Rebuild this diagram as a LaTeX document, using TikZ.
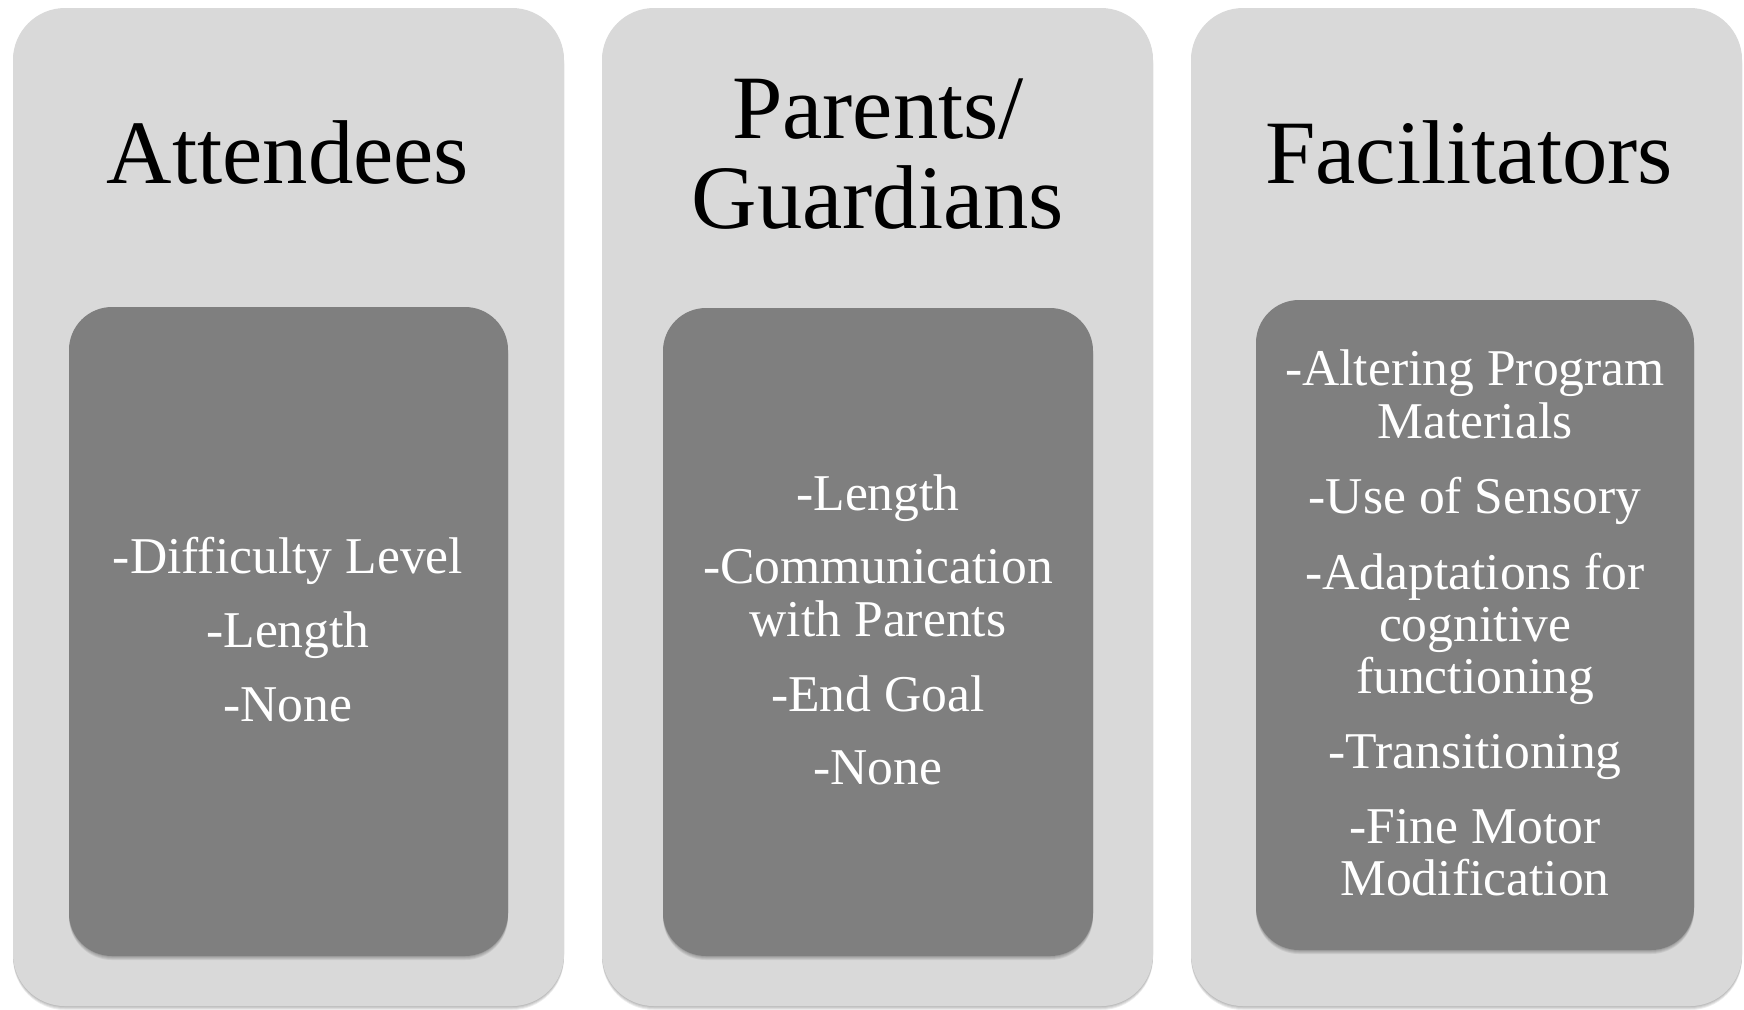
\documentclass[tikz,border=0pt]{standalone}
\usepackage{fontspec}
\setmainfont{Liberation Serif}
\definecolor{panelgray}{HTML}{D9D9D9}
\definecolor{cardgray}{HTML}{7F7F7F}

% soft shadow below a rounded box: stacked translucent copies
\newcommand{\softshade}[5]{%
  \foreach \k in {1,...,4}{%
    \fill[black,opacity=0.07,rounded corners=#5]
      (#1,#2+\k) rectangle (#3,#4+\k);}%
}

\begin{document}
\begin{tikzpicture}[x=0.5pt,y=-0.5pt,
  panel/.style={fill=panelgray,rounded corners=26pt},
  card/.style={fill=cardgray,rounded corners=21.5pt},
  heading/.style={anchor=base,inner sep=0pt,text=black,font=\fontsize{45.3pt}{48pt}\selectfont},
  entry/.style={anchor=base,inner sep=0pt,text=white,font=\fontsize{25.8pt}{27pt}\selectfont}]
\useasboundingbox (0,0) rectangle (1744,1009);

% the three columns
\softshade{13}{8}{564}{1006}{26pt}
\path[panel] (13,8) rectangle (564,1006);
\softshade{602}{8}{1153}{1006}{26pt}
\path[panel] (602,8) rectangle (1153,1006);
\softshade{1191}{8}{1742}{1006}{26pt}
\path[panel] (1191,8) rectangle (1742,1006);

% inner cards
\softshade{69}{307}{508}{956}{21.5pt}
\path[card] (69,307) rectangle (508,956);
\softshade{663}{308}{1093}{956}{21.5pt}
\path[card] (663,308) rectangle (1093,956);
\softshade{1256}{300}{1694}{950}{21.5pt}
\path[card] (1256,300) rectangle (1694,950);

% headings
\node[heading] (h1) at (288,183) {Attendees};
\node[heading] (h2a) at (878,138) {Parents/};
\node[heading] (h2b) at (878,228) {Guardians};
\node[heading] (h3) at (1469,183) {Facilitators};

% attendees
\node[entry] (a1) at (288,573) {-Difficulty Level};
\node[entry] (a2) at (288,647) {-Length};
\node[entry] (a3) at (288,721) {-None};

% parents / guardians
\node[entry] (p1) at (878,510) {-Length};
\node[entry] (p2a) at (878,583) {-Communication};
\node[entry] (p2b) at (878,636) {with Parents};
\node[entry] (p3) at (878,711) {-End Goal};
\node[entry] (p4) at (878,784) {-None};

% facilitators
\node[entry] (f1a) at (1475,385) {-Altering Program};
\node[entry] (f1b) at (1475,438) {Materials};
\node[entry] (f2) at (1475,513) {-Use of Sensory};
\node[entry] (f3a) at (1475,589) {-Adaptations for};
\node[entry] (f3b) at (1475,641) {cognitive};
\node[entry] (f3c) at (1475,693) {functioning};
\node[entry] (f4) at (1475,768) {-Transitioning};
\node[entry] (f5a) at (1475,843) {-Fine Motor};
\node[entry] (f5b) at (1475,895) {Modification};
\end{tikzpicture}
\end{document}
